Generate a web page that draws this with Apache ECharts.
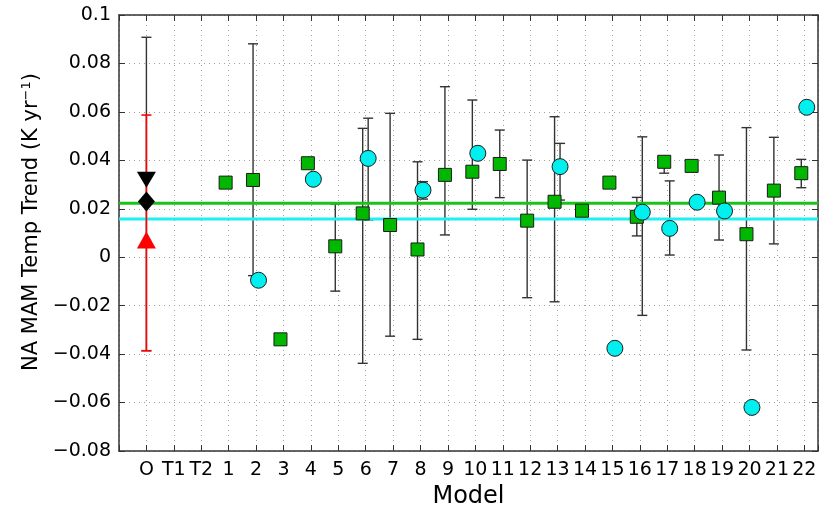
<!DOCTYPE html>
<html>
<head>
<meta charset="utf-8" />
<title>NA MAM Temp Trend</title>
<script src="https://cdn.jsdelivr.net/npm/echarts@6/dist/echarts.min.js"></script>
<style>
  html, body { margin: 0; padding: 0; background: #fff; }
  #main { width: 824px; height: 525px; }
</style>
</head>
<body>
<div id="main"></div>
<script type="text/javascript">
// x categories: observations, two extra slots, then models 1..22
var cats = ['O', 'T1', 'T2', '1', '2', '3', '4', '5', '6', '7', '8', '9', '10', '11',
            '12', '13', '14', '15', '16', '17', '18', '19', '20', '21', '22'];

// green squares, one per model (1..22)
var greenVal = [0.0308, 0.0319, -0.0339, 0.0388, 0.0045, 0.0181, 0.0133, 0.0032, 0.0340, 0.0353, 0.0385,
                0.0151, 0.0229, 0.0192, 0.0308, 0.0167, 0.0394, 0.0377, 0.0246, 0.0095, 0.0275, 0.0347];
var greenLo  = [null, -0.0076, null, null, -0.0140, -0.0438, -0.0326, -0.0339, 0.0092, 0.0198, 0.0246,
                -0.0167, -0.0184, null, null, 0.0088, 0.0347, null, 0.0071, -0.0383, 0.0055, 0.0287];
var greenHi  = [null, 0.0881, null, null, 0.0220, 0.0532, 0.0594, 0.0394, 0.0704, 0.0649, 0.0525,
                0.0401, 0.0580, null, null, 0.0247, 0.0415, null, 0.0422, 0.0535, 0.0495, 0.0404];

// cyan circles
var cyanVal = [null, -0.0095, null, 0.0322, null, 0.0408, null, 0.0277, null, 0.0429, null,
               null, 0.0374, null, -0.0376, 0.0186, 0.0119, 0.0227, 0.0191, -0.0620, null, 0.0619];
var cyanLo  = [null, null, null, null, null, 0.0154, null, 0.0240, null, null, null,
               null, 0.0236, null, null, -0.0240, 0.0009, null, null, null, null, null];
var cyanHi  = [null, null, null, null, null, 0.0574, null, 0.0312, null, null, null,
               null, 0.0470, null, null, 0.0497, 0.0315, null, null, null, null, null];

// observations (column O)
var obsBlackTri = 0.0320, obsBlackDia = 0.0230, obsBlackHi = 0.0908;
var obsRedTri = 0.0071, obsRedLo = -0.0386, obsRedHi = 0.0587;

// ensemble means
var greenMean = 0.0223;
var cyanMean = 0.0158;

var yTicks = [-0.08, -0.06, -0.04, -0.02, 0, 0.02, 0.04, 0.06, 0.08, 0.1];

var xMin = -1, xMax = 24.5;
var greenOff = -0.11, cyanOff = 0.09;
var firstModel = 3;

var greenPts = [], cyanPts = [], greenBars = [], cyanBars = [];
for (var i = 0; i < greenVal.length; i++) {
    var x = firstModel + i;
    if (greenVal[i] != null) greenPts.push([x + greenOff, greenVal[i]]);
    if (cyanVal[i] != null) cyanPts.push([x + cyanOff, cyanVal[i]]);
    if (greenLo[i] != null) greenBars.push([x + greenOff, greenLo[i], greenHi[i]]);
    if (cyanLo[i] != null) cyanBars.push([x + cyanOff, cyanLo[i], cyanHi[i]]);
}

function errBar(color, width, capW) {
    return function (params, api) {
        var x = api.value(0);
        var lo = api.coord([x, api.value(1)]);
        var hi = api.coord([x, api.value(2)]);
        var st = { stroke: color, lineWidth: width };
        return {
            type: 'group',
            children: [
                { type: 'line', shape: { x1: lo[0], y1: lo[1], x2: hi[0], y2: hi[1] }, style: st },
                { type: 'line', shape: { x1: lo[0] - capW, y1: lo[1], x2: lo[0] + capW, y2: lo[1] }, style: st },
                { type: 'line', shape: { x1: hi[0] - capW, y1: hi[1], x2: hi[0] + capW, y2: hi[1] }, style: st }
            ]
        };
    };
}

function yFmt(v) {
    var r = Math.round(v * 100) / 100;
    if (r === 0) return '0';
    return String(r).replace('-', '\u2212');
}

var font = 'DejaVu Sans';
var axisCol = '#333';
var gridLine = { show: true, lineStyle: { color: '#a0a0a0', type: [1, 4], width: 1 } };

var myChart = echarts.init(document.getElementById('main'));
myChart.setOption({
    animation: false,
    backgroundColor: '#fff',
    grid: { left: 119, right: 6, top: 15, bottom: 74 },
    xAxis: [{
        type: 'value', min: xMin, max: xMax, interval: 1,
        name: 'Model', nameLocation: 'middle', nameGap: 30,
        nameTextStyle: { fontFamily: font, fontSize: 24, color: '#000' },
        axisLine: { show: true, onZero: false, lineStyle: { color: axisCol, width: 1.5 } },
        axisTick: { show: true, inside: true, length: 6, lineStyle: { color: axisCol } },
        axisLabel: {
            fontFamily: font, fontSize: 19, color: '#000', margin: 10,
            formatter: function (v) { return (Math.round(v) === v && cats[v] != null) ? cats[v] : ''; }
        },
        splitLine: gridLine
    }, {
        type: 'value', min: xMin, max: xMax, interval: 1, position: 'top',
        axisLine: { show: true, onZero: false, lineStyle: { color: axisCol, width: 1.5 } },
        axisTick: { show: true, inside: true, length: 6, lineStyle: { color: axisCol } },
        axisLabel: { show: false },
        splitLine: { show: false }
    }],
    yAxis: [{
        type: 'value', min: yTicks[0], max: yTicks[yTicks.length - 1], interval: 0.02,
        name: 'NA MAM Temp Trend (K yr{sup|\u22121})',
        nameLocation: 'middle', nameGap: 74,
        nameTextStyle: {
            fontFamily: font, fontSize: 21, color: '#000', padding: [0, 0, 0, 22],
            rich: { sup: { fontFamily: font, fontSize: 13, color: '#000', verticalAlign: 'top', padding: [0, 0, 10, 0] } }
        },
        axisLine: { show: true, onZero: false, lineStyle: { color: axisCol, width: 1.5 } },
        axisTick: { show: true, inside: true, length: 6, lineStyle: { color: axisCol } },
        axisLabel: { fontFamily: font, fontSize: 19, color: '#000', margin: 8, formatter: yFmt },
        splitLine: gridLine
    }, {
        type: 'value', min: yTicks[0], max: yTicks[yTicks.length - 1], interval: 0.02, position: 'right',
        axisLine: { show: true, onZero: false, lineStyle: { color: axisCol, width: 1.5 } },
        axisTick: { show: true, inside: true, length: 6, lineStyle: { color: axisCol } },
        axisLabel: { show: false },
        splitLine: { show: false }
    }],
    series: [
        {
            // black observation bar; its lower part runs under the red bar
            type: 'custom', name: 'obsBlackBar', z: 2,
            renderItem: errBar('#333', 1.4, 5),
            data: [[0, obsRedLo, obsBlackHi]]
        },
        {
            type: 'custom', name: 'greenBars', z: 2,
            renderItem: errBar('#333', 1.4, 5),
            data: greenBars
        },
        {
            type: 'custom', name: 'cyanBars', z: 2,
            renderItem: errBar('#333', 1.4, 5),
            data: cyanBars
        },
        {
            type: 'line', name: 'greenMean', z: 3, silent: true, symbol: 'none',
            lineStyle: { color: '#19c419', width: 3 },
            data: [[xMin, greenMean], [xMax, greenMean]]
        },
        {
            type: 'line', name: 'cyanMean', z: 3, silent: true, symbol: 'none',
            lineStyle: { color: '#1ef0f0', width: 3 },
            data: [[xMin, cyanMean], [xMax, cyanMean]]
        },
        {
            type: 'custom', name: 'obsRedBar', z: 4,
            renderItem: errBar('#ff0000', 1.6, 5),
            data: [[0, obsRedLo, obsRedHi]]
        },
        {
            type: 'scatter', name: 'obsBlackTri', z: 5,
            symbol: 'triangle', symbolRotate: 180, symbolSize: [19, 16],
            itemStyle: { color: '#000', opacity: 1 },
            data: [[0, obsBlackTri]]
        },
        {
            type: 'scatter', name: 'obsBlackDia', z: 5,
            symbol: 'diamond', symbolSize: [17, 20],
            itemStyle: { color: '#000', opacity: 1 },
            data: [[0, obsBlackDia]]
        },
        {
            type: 'scatter', name: 'obsRedTri', z: 5,
            symbol: 'triangle', symbolSize: [19, 17],
            itemStyle: { color: '#ff0000', opacity: 1 },
            data: [[0, obsRedTri]]
        },
        {
            type: 'scatter', name: 'green', z: 5,
            symbol: 'rect', symbolSize: 13,
            itemStyle: { color: '#00b800', borderColor: '#1a1a1a', borderWidth: 1, opacity: 1 },
            data: greenPts
        },
        {
            type: 'scatter', name: 'cyan', z: 6,
            symbol: 'circle', symbolSize: 16,
            itemStyle: { color: '#00f0f0', borderColor: '#1a1a1a', borderWidth: 1, opacity: 1 },
            data: cyanPts
        }
    ]
});
</script>
</body>
</html>
